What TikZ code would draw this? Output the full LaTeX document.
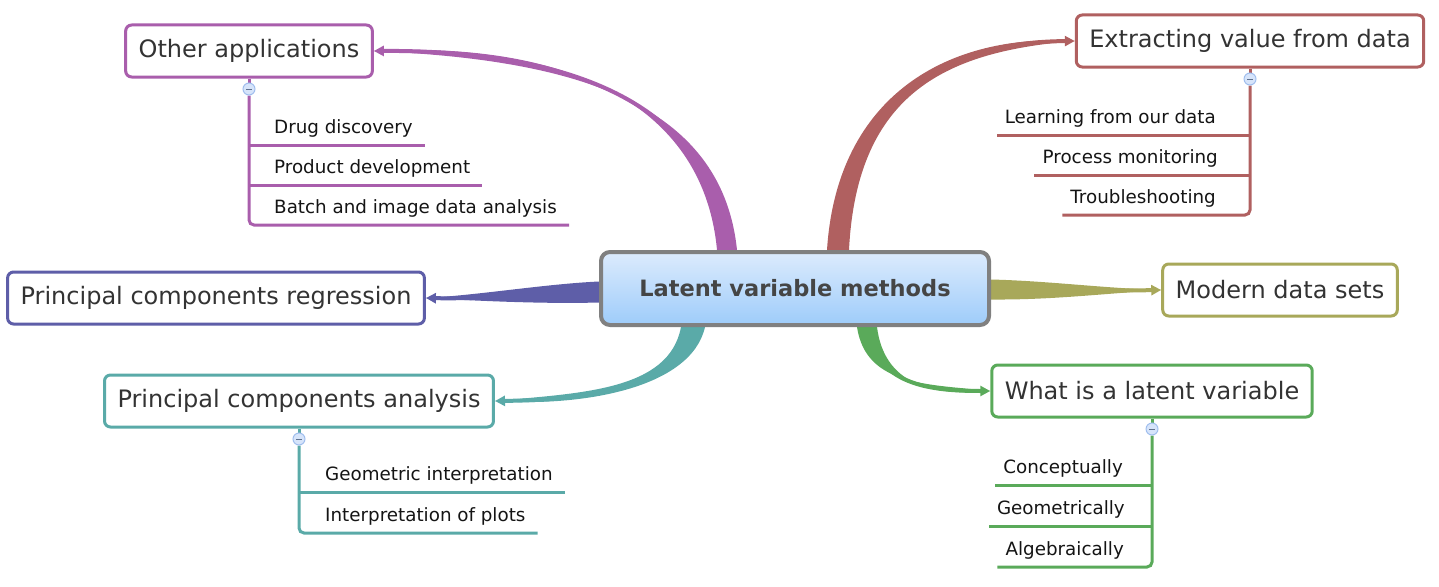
\documentclass[tikz,border=0pt]{standalone}
\usepackage{fontspec}
\setmainfont{DejaVu Sans}
\usetikzlibrary{positioning,arrows.meta,calc,backgrounds}

\definecolor{oapp}{RGB}{169,94,172}
\definecolor{extr}{RGB}{176,96,96}
\definecolor{preg}{RGB}{94,94,168}
\definecolor{mods}{RGB}{168,168,90}
\definecolor{pcan}{RGB}{90,170,168}
\definecolor{wlat}{RGB}{90,170,90}
\definecolor{txtgray}{RGB}{51,51,51}
\definecolor{boxtop}{RGB}{220,235,253}
\definecolor{boxbot}{RGB}{158,204,250}
\definecolor{dotfill}{RGB}{214,228,250}
\definecolor{dotline}{RGB}{160,190,238}

\tikzset{
  topic/.style={draw=#1, line width=3pt, rounded corners=6pt, fill=white, text=txtgray,
    font=\fontsize{24}{28}\selectfont, minimum height=52pt, inner xsep=13pt},
  leaf/.style={inner xsep=#1, inner ysep=7pt, text=black!92,
    font=\fontsize{18.3}{22}\selectfont, text height=13pt, text depth=4pt},
  sub/.style={draw=#1, line width=3pt},
  collapse/.style={circle, draw=dotline, fill=dotfill, line width=1pt, minimum size=12pt, inner sep=0pt,
    path picture={\draw[dotline!60!black, line width=0.8pt]
      ([xshift=-3pt]path picture bounding box.center) -- ([xshift=3pt]path picture bounding box.center);}},
  branch/.style={draw=#1, line width=4pt, -{Triangle[length=10pt,width=10pt]}},
}

\begin{document}
\begin{tikzpicture}[x=1pt,y=-1pt]
	\useasboundingbox (0,0) rectangle (1439,586);

	\node[draw=black!50, line width=4pt, rounded corners=9pt, top color=boxtop, bottom color=boxbot,
		minimum width=388pt, minimum height=73pt, text=black!73,
		font=\bfseries\fontsize{22.5}{26}\selectfont] (lvm) at (795,288.5) {Latent variable methods};

	\node[topic=oapp] (oth) at (249,51) {Other applications};
	\node[topic=extr] (ext) at (1250,41) {Extracting value from data};
	\node[topic=preg] (pcr) at (216,298) {Principal components regression};
	\node[topic=mods] (mod) at (1280,290) {Modern data sets};
	\node[topic=pcan] (pca) at (299,401) {Principal components analysis};
	\node[topic=wlat] (wlv) at (1152,391) {What is a latent variable};

	\node[collapse, below=4pt of oth] (othc) {};
	\node[collapse, below=4pt of ext] (extc) {};
	\node[collapse, below=4pt of pca] (pcac) {};
	\node[collapse, below=4pt of wlv] (wlvc) {};

	\node[leaf=12pt, anchor=south west] (oth1) at (262,145) {Drug discovery};
	\node[leaf=12pt, anchor=south west] (oth2) at (262,185) {Product development};
	\node[leaf=12pt, anchor=south west] (oth3) at (262,225) {Batch and image data analysis};

	\node[leaf=8pt, anchor=south east] (ext1) at (1224,135) {Learning from our data};
	\node[leaf=8pt, anchor=south east] (ext2) at (1226,175) {Process monitoring};
	\node[leaf=8pt, anchor=south east] (ext3) at (1224,215) {Troubleshooting};

	\node[leaf=12pt, anchor=south west] (pca1) at (313,492) {Geometric interpretation};
	\node[leaf=12pt, anchor=south west] (pca2) at (313,533) {Interpretation of plots};

	\node[leaf=8pt, anchor=south east] (wlv1) at (1131,485) {Conceptually};
	\node[leaf=8pt, anchor=south east] (wlv2) at (1133,526) {Geometrically};
	\node[leaf=8pt, anchor=south east] (wlv3) at (1132,567) {Algebraically};

	\begin{scope}[on background layer]
		% tapered branches out of the central box
		\coordinate (r1) at ($(lvm.north)+(-68,0)$);
		\coordinate (r2) at ($(lvm.north)+(43,0)$);
		\coordinate (r3) at ($(lvm.west)+(0,4)$);
		\coordinate (r4) at ($(lvm.east)+(0,1)$);
		\coordinate (r5) at ($(lvm.south)+(-102,0)$);
		\coordinate (r6) at ($(lvm.south)+(72,0)$);

		\fill[oapp] ($(r1)+(-10,0)$) .. controls (703,100) and (560,41) .. (oth.east)
			.. controls (560,59) and (721,96) .. ($(r1)+(10,0)$) -- cycle;
		\draw[branch=oapp] (r1) .. controls (712,98) and (560,50) .. (oth.east);

		\fill[extr] ($(r2)+(-11,0)$) .. controls (837,94) and (950,33) .. (ext.west)
			.. controls (950,51) and (857,90) .. ($(r2)+(11,0)$) -- cycle;
		\draw[branch=extr] (r2) .. controls (847,92) and (950,42) .. (ext.west);

		\fill[preg] ($(r3)+(0,-11)$) .. controls (545,284) and (480,295) .. (pcr.east)
			.. controls (480,301) and (545,304) .. ($(r3)+(0,10)$) -- cycle;
		\draw[branch=preg] (r3) .. controls (545,295) and (480,299) .. (pcr.east);

		\fill[mods] ($(r4)+(0,-10)$) .. controls (1050,281) and (1100,288) .. (mod.west)
			.. controls (1100,294) and (1050,300) .. ($(r4)+(0,10)$) -- cycle;
		\draw[branch=mods] (r4) .. controls (1050,291) and (1100,291) .. (mod.west);

		\fill[pcan] ($(r5)+(-12,0)$) .. controls (669,391) and (580,393) .. (pca.east)
			.. controls (580,407) and (691,389) .. ($(r5)+(12,0)$) -- cycle;
		\draw[branch=pcan] (r5) .. controls (680,390) and (580,400) .. (pca.east);

		\fill[wlat] ($(r6)+(-10,0)$) .. controls (866,387) and (930,384) .. (wlv.west)
			.. controls (930,397) and (884,383) .. ($(r6)+(10,0)$) -- cycle;
		\draw[branch=wlat] (r6) .. controls (875,385) and (930,391) .. (wlv.west);

		% sub topic lines
		\draw[sub=oapp] (oth) -- (othc);
		\draw[sub=oapp, rounded corners=5pt] (othc) |- (oth3.south east);
		\draw[sub=oapp] (othc |- oth1.south) -- (oth1.south east);
		\draw[sub=oapp] (othc |- oth2.south) -- (oth2.south east);

		\draw[sub=extr] (ext) -- (extc);
		\draw[sub=extr, rounded corners=5pt] (extc) |- (ext3.south west);
		\draw[sub=extr] (extc |- ext1.south) -- (ext1.south west);
		\draw[sub=extr] (extc |- ext2.south) -- (ext2.south west);

		\draw[sub=pcan] (pca) -- (pcac);
		\draw[sub=pcan, rounded corners=5pt] (pcac) |- (pca2.south east);
		\draw[sub=pcan] (pcac |- pca1.south) -- (pca1.south east);

		\draw[sub=wlat] (wlv) -- (wlvc);
		\draw[sub=wlat, rounded corners=5pt] (wlvc) |- (wlv3.south west);
		\draw[sub=wlat] (wlvc |- wlv1.south) -- (wlv1.south west);
		\draw[sub=wlat] (wlvc |- wlv2.south) -- (wlv2.south west);
	\end{scope}
\end{tikzpicture}
\end{document}
